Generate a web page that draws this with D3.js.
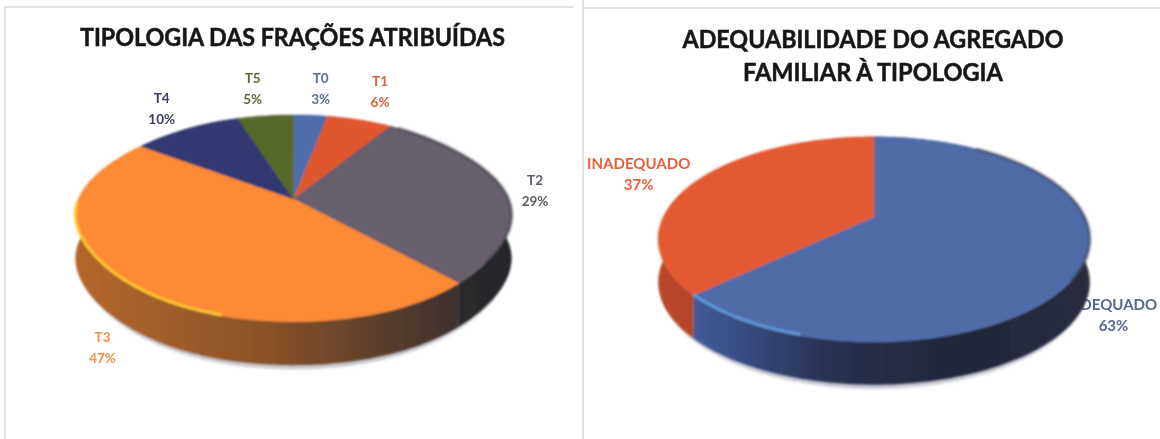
<!DOCTYPE html>
<html><head><meta charset="utf-8">
<script src="https://cdnjs.cloudflare.com/ajax/libs/d3/7.8.5/d3.min.js"></script>
<style>html,body{margin:0;padding:0;background:#fff}svg{display:block}text{font-family:Lato,"Open Sans",sans-serif;font-weight:700}</style>
</head><body><svg id="c" width="1160" height="439"></svg>
<script>
// ---- data ----
const tipologiaLabels = ["T0","T1","T2","T3","T4","T5"];
const tipologiaValues = [3,6,29,47,10,5];
const adequacaoLabels = ["ADEQUADO","INADEQUADO"];
const adequacaoValues = [63,37];
const titleLeft = ["TIPOLOGIA DAS FRAÇÕES ATRIBUÍDAS"];
const titleRight = ["ADEQUABILIDADE DO AGREGADO","FAMILIAR À TIPOLOGIA"];
// ---- styles ----
const tipologiaColors = ["#4f6cab","#e0562f","#675f6c","#fd8a36","#33396f","#56692b"];
const tipologiaText   = ["#5a6d9c","#d9613c","#5f5a63","#f0924a","#3a3d5c","#5c6b3a"];
const tipologiaWalls  = [["#3a4f7a","#3a4f7a"],["#a03d22","#a03d22"],["#35312f","#24252a"],["#b5672b","#8a5228","#3b302f"],["#23264a","#23264a"],["#3d4a1e","#3d4a1e"]];
const adequacaoColors = ["#4f6ca8","#e35a30"];
const adequacaoText   = ["#55698f","#e8613a"];
const adequacaoWalls  = [["#3f5c9a","#2a3254","#22263a","#2a2d3e"],["#bb472a","#a23c26"]];
const geomLeft  = {ax:293.5, ay:199, A:215, B:99.7, p:0.187, depth:43.5, square:0.03, hi:{from:196,to:268,color:"#ffc832"}};
const geomRight = {ax:874,   ay:216.7, A:210.5,B:97.5, p:0.22, depth:43, square:0, hi:{from:196,to:226.8,color:"#5f98dc"}};
const labelPosLeft  = [[320.7,82.5],[380,86],[535,184.5],[102.5,342],[161.7,102.5],[252.7,82.5]];
const labelPosRight = [[1113.5,310],[638.7,169]];
const lineGap = 21;

const svg = d3.select("#c");
const defs = svg.append("defs");
const blur = defs.append("filter").attr("id","soft").attr("x","-5%").attr("y","-5%").attr("width","110%").attr("height","110%");
blur.append("feGaussianBlur").attr("stdDeviation",0.9);
const blurT = defs.append("filter").attr("id","softT").attr("x","-5%").attr("y","-20%").attr("width","110%").attr("height","140%");
blurT.append("feGaussianBlur").attr("stdDeviation",0.5);
const blurS = defs.append("filter").attr("id","shadow").attr("x","-10%").attr("y","-10%").attr("width","120%").attr("height","120%");
blurS.append("feGaussianBlur").attr("stdDeviation",1.6);

// frames
const frame = svg.append("g").attr("stroke","#d9d9de").attr("stroke-width",1.5).attr("fill","none");
[[5,7,5,439],[5,7,573,7],[583,0,583,439],[584,8,1160,8]].forEach(l=>
  frame.append("line").attr("x1",l[0]).attr("y1",l[1]).attr("x2",l[2]).attr("y2",l[3]));

function project(g,t,dy=0){
  const u=Math.sin(t), v=-Math.cos(t), w=1-g.p*v, s=Math.sin(2*t);
  return [g.ax+g.A*u/w*(1-g.square*s*s), g.ay+g.B*v/w+dy];
}
function arcPts(g,a0,a1,dy=0){
  const n=Math.max(2,Math.ceil((a1-a0)/0.02));
  return d3.range(n+1).map(i=>project(g,a0+(a1-a0)*i/n,dy));
}
const line=d3.line();
function drawLabels(values,names,colors,pos,size){
  const g=svg.append("g").attr("filter","url(#softT)");
  values.forEach((val,i)=>{
    const t=g.append("text").attr("text-anchor","middle").attr("font-size",size).attr("fill",colors[i]);
    t.append("tspan").attr("x",pos[i][0]).attr("y",pos[i][1]).text(names[i]);
    t.append("tspan").attr("x",pos[i][0]).attr("y",pos[i][1]+lineGap).text(val+"%");
  });
}
function drawPie(id,values,colors,walls,g){
  const arcs=d3.pie().sort(null).value(d=>d)(values);
  // ground shadow
  const shadowPts=arcPts(g,0,2*Math.PI,g.depth+4).map(p=>[g.ax+(p[0]-g.ax)*0.985,p[1]]);
  svg.append("path").attr("d",line(shadowPts)+"Z").attr("fill","#c2c3cc").attr("filter","url(#shadow)");
  const root=svg.append("g").attr("filter","url(#soft)");
  // side walls
  arcs.forEach((a,i)=>{
    const top=arcPts(g,a.startAngle,a.endAngle);
    const bot=arcPts(g,a.startAngle,a.endAngle,g.depth).reverse();
    const xs=top.map(p=>p[0]);
    const grad=defs.append("linearGradient").attr("id",id+"w"+i).attr("gradientUnits","userSpaceOnUse")
      .attr("x1",d3.min(xs)).attr("x2",d3.max(xs)).attr("y1",0).attr("y2",0);
    walls[i].forEach((c,k)=>grad.append("stop").attr("offset",k/(walls[i].length-1)).attr("stop-color",c));
    root.append("path").attr("d",line(top.concat(bot))+"Z").attr("fill","url(#"+id+"w"+i+")");
  });
  // top faces
  arcs.forEach((a,i)=>{
    const pts=[[g.ax,g.ay]].concat(arcPts(g,a.startAngle,a.endAngle));
    root.append("path").attr("d",line(pts)+"Z").attr("fill",colors[i]).attr("stroke",colors[i]).attr("stroke-width",0.5);
  });
  // dark soft rim on the upper right of the face
  const rim=arcPts(g,35*Math.PI/180,125*Math.PI/180);
  root.append("path").attr("d",line(rim)).attr("fill","none").attr("stroke","#2c2c38").attr("stroke-opacity",0.4).attr("stroke-width",3.5);
  // highlight along the lower-left edge
  const hi=arcPts(g,g.hi.from*Math.PI/180,g.hi.to*Math.PI/180,-1);
  root.append("path").attr("d",line(hi)).attr("fill","none").attr("stroke",g.hi.color).attr("stroke-width",2.8);
}
function title(lines,cx,ys,widths,size){
  const g=svg.append("g").attr("filter","url(#softT)");
  lines.forEach((s,i)=>g.append("text").attr("x",cx).attr("y",ys[i]).attr("text-anchor","middle").attr("font-size",size).attr("fill","#171717")
    .attr("stroke","#171717").attr("stroke-width",0.5)
    .attr("textLength",widths[i]).attr("lengthAdjust","spacingAndGlyphs").text(s));
}
title(titleLeft,292.5,[45.5],[425],24);
title(titleRight,873,[48,81],[381,260],24);
drawLabels(tipologiaValues,tipologiaLabels,tipologiaText,labelPosLeft,13.5);
drawLabels(adequacaoValues,adequacaoLabels,adequacaoText,labelPosRight,15);
drawPie("L",tipologiaValues,tipologiaColors,tipologiaWalls,geomLeft);
drawPie("R",adequacaoValues,adequacaoColors,adequacaoWalls,geomRight);
</script></body></html>
